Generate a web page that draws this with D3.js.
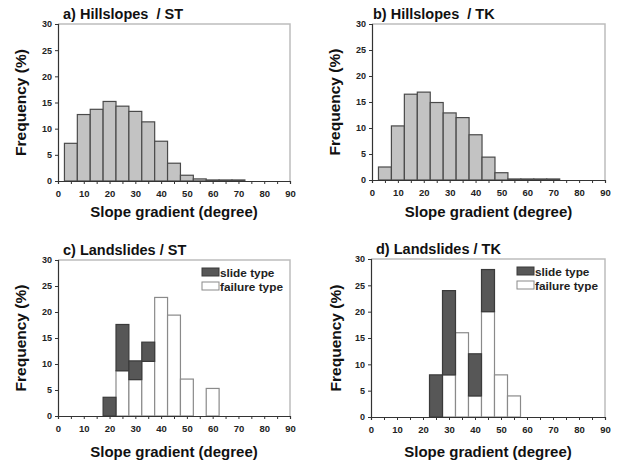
<!DOCTYPE html>
<html>
<head>
<meta charset="utf-8">
<script src="https://cdn.jsdelivr.net/npm/d3@7"></script>
<style>
  body { margin: 0; background: #fff; }
  text { font-family: "Liberation Sans", Arial, sans-serif; font-weight: bold; }
</style>
</head>
<body>
<div id="chart"></div>
<script>
// bin centres (degrees), bins are 5 degrees wide
let bins = [5, 10, 15, 20, 25, 30, 35, 40, 45, 50, 55, 60, 65, 70];
let hillST = [7.2, 12.7, 13.7, 15.2, 14.3, 13.3, 11.3, 7.6, 3.4, 1.1, 0.4, 0.2, 0.2, 0.2];
let hillTK = [2.5, 10.4, 16.5, 16.9, 14.9, 12.9, 12.0, 8.7, 4.4, 1.4, 0.2, 0.2, 0.2, 0.2];

let slideBins = [20, 25, 30, 35, 40, 45, 50, 55, 60];
let stFailure = [0, 8.7, 7.0, 10.5, 22.8, 19.4, 7.1, 0, 5.3];
let stSlide = [3.6, 8.9, 3.6, 3.7, 0, 0, 0, 0, 0];
let tkFailure = [0, 0, 8, 16, 4, 20, 8, 4, 0];
let tkSlide = [0, 8, 16, 0, 8, 8, 0, 0, 0];

let xTicks = [0, 5, 10, 15, 20, 25, 30, 35, 40, 45, 50, 55, 60, 65, 70, 75, 80, 85, 90];
let yTicks = [0, 5, 10, 15, 20, 25, 30];
let legendLabels = ['slide type', 'failure type'];

let width = 617;
let height = 462;

let svg = d3.select('#chart')
	.append('svg')
	.attr('width', width)
	.attr('height', height);

function panel(opts){
	let x = d3.scaleLinear().domain([0, 90]).range([opts.left, opts.right]);
	let y = d3.scaleLinear().domain([0, 30]).range([opts.bottom, opts.top]);
	let g = svg.append('g');

	// grey frame on top and right
	g.append('polyline')
		.attr('points', opts.left + ',' + opts.top + ' ' + opts.right + ',' + opts.top + ' ' + opts.right + ',' + opts.bottom)
		.attr('fill', 'none')
		.attr('stroke', '#bdbdbd')
		.attr('stroke-width', 1.5);

	if(opts.values){
		g.selectAll('rect.bar')
			.data(opts.bins)
			.enter()
			.append('rect')
			.attr('x', d => x(d - 2.5))
			.attr('width', d => x(d + 2.5) - x(d - 2.5))
			.attr('y', (d, i) => y(opts.values[i]))
			.attr('height', (d, i) => y(0) - y(opts.values[i]))
			.attr('fill', '#c3c3c3')
			.attr('stroke', '#4a4a4a')
			.attr('stroke-width', 1.2);
	} else {
		g.selectAll('rect.fail')
			.data(opts.bins)
			.enter()
			.filter((d, i) => opts.failure[i] > 0)
			.append('rect')
			.attr('x', d => x(d - 2.5))
			.attr('width', d => x(d + 2.5) - x(d - 2.5))
			.attr('y', d => y(opts.failure[opts.bins.indexOf(d)]))
			.attr('height', d => y(0) - y(opts.failure[opts.bins.indexOf(d)]))
			.attr('fill', '#fff')
			.attr('stroke', '#8a8a8a')
			.attr('stroke-width', 1.2);
		g.selectAll('rect.slide')
			.data(opts.bins)
			.enter()
			.filter((d, i) => opts.slide[i] > 0)
			.append('rect')
			.attr('x', d => x(d - 2.5))
			.attr('width', d => x(d + 2.5) - x(d - 2.5))
			.attr('y', d => { let i = opts.bins.indexOf(d); return y(opts.failure[i] + opts.slide[i]); })
			.attr('height', d => { let i = opts.bins.indexOf(d); return y(opts.failure[i]) - y(opts.failure[i] + opts.slide[i]); })
			.attr('fill', '#575757')
			.attr('stroke', '#3a3a3a')
			.attr('stroke-width', 1.2);

		// legend
		let lg = g.append('g').attr('transform', 'translate(' + opts.legendX + ',' + (opts.top + 8) + ')');
		legendLabels.forEach(function(l, i){
			lg.append('rect')
				.attr('x', 0)
				.attr('y', i * 14)
				.attr('width', 17)
				.attr('height', 8)
				.attr('fill', i === 0 ? '#575757' : '#fff')
				.attr('stroke', i === 0 ? '#3a3a3a' : '#8a8a8a')
				.attr('stroke-width', 1);
			lg.append('text')
				.attr('x', 18)
				.attr('y', i * 14 + 8.5)
				.attr('font-size', 11.8)
				.attr('fill', '#222')
				.text(l);
		});
	}

	let xAxis = d3.axisBottom(x)
		.tickValues(xTicks)
		.tickSize(3)
		.tickFormat(d => d % 10 === 0 ? d : '');
	let ax = g.append('g')
		.attr('transform', 'translate(0,' + opts.bottom + ')')
		.call(xAxis);
	ax.select('.domain').attr('stroke', '#333').attr('stroke-width', 1.2);
	ax.selectAll('.tick line').attr('stroke', '#333');
	ax.selectAll('.tick text')
		.attr('font-size', 9.5)
		.attr('font-family', '"Liberation Sans Narrow", "Liberation Sans", sans-serif')
		.attr('dy', '1.0em')
		.attr('fill', '#222');

	let yAxis = d3.axisLeft(y)
		.tickValues(yTicks)
		.tickSize(3);
	let ay = g.append('g')
		.attr('transform', 'translate(' + opts.left + ',0)')
		.call(yAxis);
	ay.select('.domain').attr('stroke', '#333').attr('stroke-width', 1.2);
	ay.selectAll('.tick line').attr('stroke', '#333');
	ay.selectAll('.tick text')
		.attr('font-size', 9)
		.attr('font-family', '"Liberation Sans Narrow", "Liberation Sans", sans-serif')
		.attr('x', -6)
		.attr('fill', '#222');

	g.append('text')
		.attr('x', opts.titleX)
		.attr('y', opts.top - 5)
		.attr('font-size', 14.5)
		.attr('fill', '#111')
		.style('white-space', 'pre')
		.text(opts.title);

	g.append('text')
		.attr('transform', 'translate(' + opts.ylabX + ',' + ((opts.top + opts.bottom) / 2) + ') rotate(-90)')
		.attr('text-anchor', 'middle')
		.attr('font-size', 15.5)
		.attr('fill', '#111')
		.text('Frequency (%)');

	g.append('text')
		.attr('x', (opts.left + opts.right) / 2)
		.attr('y', opts.bottom + opts.xlabDy)
		.attr('text-anchor', 'middle')
		.attr('font-size', 15)
		.attr('fill', '#111')
		.text('Slope gradient (degree)');
}

panel({left: 58, right: 290, top: 24, bottom: 181, bins: bins, values: hillST,
	title: 'a) Hillslopes  / ST', titleX: 63, ylabX: 26, xlabDy: 36});
panel({left: 372, right: 605, top: 24, bottom: 180, bins: bins, values: hillTK,
	title: 'b) Hillslopes  / TK', titleX: 373, ylabX: 340, xlabDy: 37});
panel({left: 58, right: 290, top: 260, bottom: 416, bins: slideBins, failure: stFailure, slide: stSlide,
	title: 'c) Landslides / ST', titleX: 63, ylabX: 26, xlabDy: 41, legendX: 202});
panel({left: 371, right: 605, top: 259, bottom: 417, bins: slideBins, failure: tkFailure, slide: tkSlide,
	title: 'd) Landslides / TK', titleX: 376, ylabX: 341, xlabDy: 40, legendX: 517});
</script>
</body>
</html>
